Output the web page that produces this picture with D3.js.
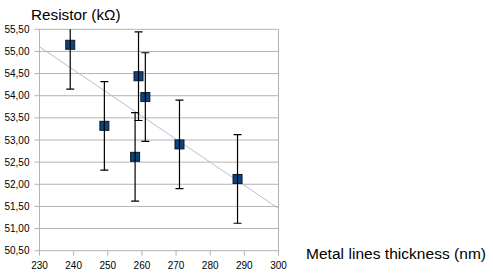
<!DOCTYPE html>
<html>
<head>
<meta charset="utf-8">
<script src="https://cdn.jsdelivr.net/npm/d3@7"></script>
<style>
  html, body { margin: 0; padding: 0; background: #fff; }
  svg { display: block; font-family: "Liberation Sans", Arial, sans-serif; }
</style>
</head>
<body>
<svg id="chart" width="493" height="280"></svg>
<script>
// ── Data ──
const thickness = [239, 249, 259, 261, 258, 271, 288];           // nm
const resistance = [55.15, 53.32, 54.44, 53.97, 52.62, 52.90, 52.12]; // kΩ
const errorAmt = [1, 1, 1, 1, 1, 1, 1];
const xTicks = [230, 240, 250, 260, 270, 280, 290, 300];
const yTicks = [50.5, 51, 51.5, 52, 52.5, 53, 53.5, 54, 54.5, 55, 55.5];

// ── Layout ──
const svg = d3.select('#chart');
const plotL = 39.5, plotR = 278.5, plotT = 29.3, plotB = 250.7;

const x = d3.scaleLinear().domain([230, 300]).range([plotL, plotR]);
const y = d3.scaleLinear().domain([50.5, 55.5]).range([plotB, plotT]);
const fmt = d => d.toFixed(2).replace('.', ',');

// gridlines
svg.append('g').selectAll('line').data(yTicks).enter().append('line')
    .attr('x1', plotL - 5).attr('x2', plotR)
    .attr('y1', d => y(d)).attr('y2', d => y(d))
    .attr('stroke', '#b3b3b3').attr('stroke-width', 1);

// axes (left + right frame, x ticks)
svg.append('line').attr('x1', plotL).attr('x2', plotL).attr('y1', plotT).attr('y2', plotB)
    .attr('stroke', '#b3b3b3');
svg.append('line').attr('x1', plotR).attr('x2', plotR).attr('y1', plotT).attr('y2', plotB)
    .attr('stroke', '#b3b3b3');
svg.append('g').selectAll('line').data(xTicks).enter().append('line')
    .attr('x1', d => x(d)).attr('x2', d => x(d))
    .attr('y1', plotB).attr('y2', plotB + 5)
    .attr('stroke', '#b3b3b3');

// tick labels
svg.append('g').selectAll('text').data(yTicks).enter().append('text')
    .attr('x', plotL - 10).attr('y', d => y(d) + 3.5)
    .attr('text-anchor', 'end').attr('font-size', 10).attr('fill', '#000')
    .text(fmt);
svg.append('g').selectAll('text').data(xTicks).enter().append('text')
    .attr('x', d => x(d)).attr('y', plotB + 18.5)
    .attr('text-anchor', 'middle').attr('font-size', 10).attr('fill', '#000')
    .text(d => d);

// axis titles
svg.append('text').attr('x', 31).attr('y', 20).attr('font-size', 15.3).text('Resistor (kΩ)');
svg.append('text').attr('x', 306).attr('y', 259).attr('font-size', 15.5)
    .attr('textLength', 180).attr('lengthAdjust', 'spacing')
    .text('Metal lines thickness (nm)');

// clip for plot content
svg.append('clipPath').attr('id', 'plot-clip').append('rect')
    .attr('x', plotL).attr('y', plotT).attr('width', plotR - plotL).attr('height', plotB - plotT);

// ── Linear trend line (least squares) ──
const mx = d3.mean(thickness), my = d3.mean(resistance);
const slope = d3.sum(thickness, (t, i) => (t - mx) * (resistance[i] - my)) /
              d3.sum(thickness, t => (t - mx) * (t - mx));
const trend = v => my + slope * (v - mx);
svg.append('line')
    .attr('x1', x(230)).attr('y1', y(trend(230)))
    .attr('x2', x(300)).attr('y2', y(trend(300)))
    .attr('stroke', '#b4c0d2').attr('stroke-width', 1);

const plot = svg.append('g').attr('clip-path', 'url(#plot-clip)');

// markers
plot.selectAll('rect.pt').data(thickness).enter().append('rect')
    .attr('class', 'pt')
    .attr('x', d => x(d) - 4.5)
    .attr('y', (d, i) => y(resistance[i]) - 4.5)
    .attr('width', 9).attr('height', 9)
    .attr('fill', '#0b437e').attr('stroke', '#0a1a2a').attr('stroke-width', 1);

// error bars drawn over markers
const eb = plot.selectAll('g.eb').data(thickness).enter().append('g').attr('class', 'eb')
    .attr('stroke', '#000').attr('stroke-width', 1.2);
eb.append('line')
    .attr('x1', d => x(d)).attr('x2', d => x(d))
    .attr('y1', (d, i) => y(resistance[i] + errorAmt[i]))
    .attr('y2', (d, i) => y(resistance[i] - errorAmt[i]));
eb.append('line')
    .attr('x1', d => x(d) - 4).attr('x2', d => x(d) + 4)
    .attr('y1', (d, i) => y(resistance[i] + errorAmt[i]))
    .attr('y2', (d, i) => y(resistance[i] + errorAmt[i]));
eb.append('line')
    .attr('x1', d => x(d) - 4).attr('x2', d => x(d) + 4)
    .attr('y1', (d, i) => y(resistance[i] - errorAmt[i]))
    .attr('y2', (d, i) => y(resistance[i] - errorAmt[i]));
</script>
</body>
</html>
